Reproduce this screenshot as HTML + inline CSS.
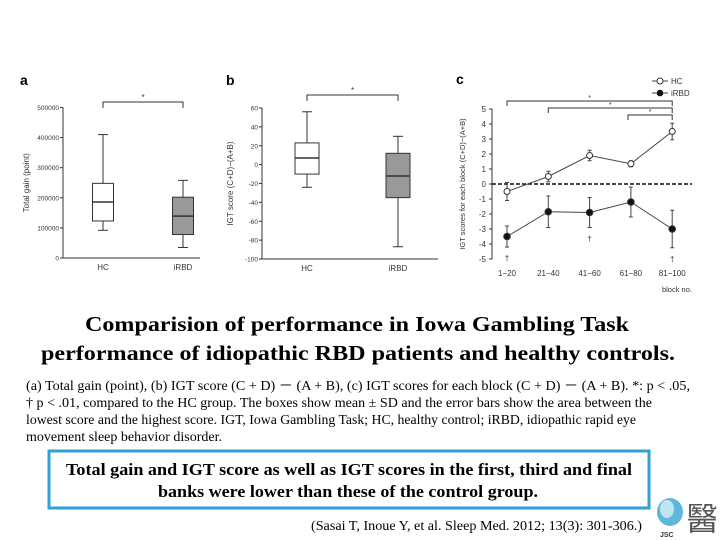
<!DOCTYPE html>
<html><head><meta charset="utf-8"><style>
html,body{margin:0;padding:0;background:#fff;width:720px;height:540px;overflow:hidden}
svg{display:block}
.ax{font-family:"Liberation Sans",sans-serif;fill:#333}
.sf{font-family:"Liberation Serif",serif;fill:#000}
</style></head><body>
<svg id="s" width="720" height="540" viewBox="0 0 720 540">
<g id="ga"></g>
<g id="gb"></g>
<g id="gc"></g>
<text class="sf" x="357" y="331" text-anchor="middle" font-size="21" font-weight="bold" textLength="544" lengthAdjust="spacingAndGlyphs">Comparision of performance in Iowa Gambling Task</text>
<text class="sf" x="358" y="360" text-anchor="middle" font-size="21" font-weight="bold" textLength="634" lengthAdjust="spacingAndGlyphs">performance of idiopathic RBD patients and healthy controls.</text>
<g font-size="13.5">
<text class="sf" x="26" y="390" textLength="664" lengthAdjust="spacingAndGlyphs">(a) Total gain (point), (b) IGT score (C + D) － (A + B), (c) IGT scores for each block (C + D) － (A + B). *: p &lt; .05,</text>
<text class="sf" x="26" y="407" textLength="626" lengthAdjust="spacingAndGlyphs">† p &lt; .01, compared to the HC group. The boxes show mean ± SD and the error bars show the area between the</text>
<text class="sf" x="26" y="424" textLength="610" lengthAdjust="spacingAndGlyphs">lowest  score and the highest score. IGT, Iowa Gambling Task; HC, healthy control; iRBD, idiopathic rapid eye</text>
<text class="sf" x="26" y="441" textLength="196" lengthAdjust="spacingAndGlyphs">movement sleep behavior disorder.</text>
</g>
<rect x="49" y="451" width="600" height="57" fill="none" stroke="#2ea3d2" stroke-width="3"/>
<text class="sf" x="349" y="475" text-anchor="middle" font-size="17" font-weight="bold" textLength="566" lengthAdjust="spacingAndGlyphs">Total gain and IGT score as well as IGT scores in the first, third and final</text>
<text class="sf" x="348" y="497" text-anchor="middle" font-size="17" font-weight="bold" textLength="380" lengthAdjust="spacingAndGlyphs">banks were lower than these of the control group.</text>
<text class="sf" x="311" y="530" font-size="14" textLength="331" lengthAdjust="spacingAndGlyphs">(Sasai T, Inoue Y, et al. Sleep Med. 2012; 13(3): 301-306.)</text>
<g>
<ellipse cx="670" cy="512" rx="13" ry="14" fill="#5fb8dc"/>
<ellipse cx="667" cy="509" rx="7" ry="9" fill="#bfe4f2"/>
<text x="660" y="537" font-family="Liberation Sans,sans-serif" font-size="7" font-weight="bold" fill="#333">JSC</text>
<text x="686" y="530" font-family="'Noto Sans CJK JP',sans-serif" font-size="32" fill="#555">醫</text>
</g>
</svg>
<script>
// Panel a data
const boxCats = ["HC","iRBD"];
const aMax=[410000,258000], aQ3=[248000,202000], aMed=[186000,139000], aQ1=[123000,78000], aMin=[92000,35000];
const aTicks=[0,100000,200000,300000,400000,500000];
// Panel b data
const bMax=[56,30], bQ3=[23,12], bMed=[7,-12], bQ1=[-10,-35], bMin=[-24,-87];
const bTicks=[-100,-80,-60,-40,-20,0,20,40,60];
// Panel c data
const blocks=["1−20","21−40","41−60","61−80","81−100"];
const hcVals=[-0.5,0.5,1.9,1.35,3.5];
const hcErr=[0.6,0.35,0.35,0.2,0.55];
const rbdVals=[-3.5,-1.85,-1.9,-1.2,-3.0];
const rbdErr=[0.7,1.05,1.0,1.0,1.25];
const cTicks=[-5,-4,-3,-2,-1,0,1,2,3,4,5];
const daggerBlocks=[0,2,4];

const NS="http://www.w3.org/2000/svg";
function mk(p,t,a,txt){const e=document.createElementNS(NS,t);for(const k in a)e.setAttribute(k,a[k]);if(txt!==undefined)e.textContent=txt;p.appendChild(e);return e;}

function boxPanel(g,cfg){
  const y=v=>cfg.y0+(v-cfg.vmin)/(cfg.vmax-cfg.vmin)*(cfg.y1-cfg.y0);
  const l=mk(g,'line',{x1:cfg.ax,x2:cfg.ax,y1:y(cfg.vmin),y2:y(cfg.vmax),stroke:'#333'});
  
  
  const xl=mk(g,'line',{x1:cfg.ax,x2:cfg.axEnd,y1:y(cfg.vmin),y2:y(cfg.vmin),stroke:'#333'});
  
  
  cfg.ticks.forEach(t=>{
    mk(g,'line',{x1:cfg.ax-3,x2:cfg.ax,y1:y(t),y2:y(t),stroke:'#333'});
    const tt=mk(g,'text',{x:cfg.ax-4,y:y(t)+2.5,'text-anchor':'end','font-size':6.5,class:'ax'},t);
    
    
  });
  boxCats.forEach((c,i)=>{
    const cx=cfg.cx[i],w=cfg.bw/2,fill=i?'#999':'#fff';
    mk(g,'line',{x1:cx,x2:cx,y1:y(cfg.max[i]),y2:y(cfg.min[i]),stroke:'#333'});
    mk(g,'line',{x1:cx-5,x2:cx+5,y1:y(cfg.max[i]),y2:y(cfg.max[i]),stroke:'#333'});
    mk(g,'line',{x1:cx-5,x2:cx+5,y1:y(cfg.min[i]),y2:y(cfg.min[i]),stroke:'#333'});
    const b=mk(g,'rect',{x:cx-w,y:y(cfg.q3[i]),width:cfg.bw,height:y(cfg.q1[i])-y(cfg.q3[i]),fill:fill,stroke:'#333'});
    
    
    mk(g,'line',{x1:cx-w,x2:cx+w,y1:y(cfg.med[i]),y2:y(cfg.med[i]),stroke:'#333','stroke-width':1.5});
    const lb=mk(g,'text',{x:cx,y:y(cfg.vmin)+12,'text-anchor':'middle','font-size':8,class:'ax'},c);
    
    
  });
  mk(g,'path',{d:`M${cfg.cx[0]},${cfg.by+6}V${cfg.by}H${cfg.cx[1]}V${cfg.by+6}`,fill:'none',stroke:'#333'});
  mk(g,'text',{x:(cfg.cx[0]+cfg.cx[1])/2,y:cfg.by-2,'text-anchor':'middle','font-size':8,class:'ax'},'*');
  const yt=mk(g,'text',{transform:`translate(${cfg.ytx},${(y(cfg.vmin)+y(cfg.vmax))/2}) rotate(-90)`,'text-anchor':'middle','font-size':8,class:'ax'},cfg.ytitle);
  
  
  const pl=mk(g,'text',{x:cfg.lx,y:85,'font-size':14,'font-weight':'bold','font-family':'Liberation Sans,sans-serif'},cfg.letter);
  
  
}
boxPanel(document.getElementById('ga'),{y0:258,y1:107.5,vmin:0,vmax:500000,ax:63,axEnd:200,ticks:aTicks,cx:[103,183],bw:21,
  max:aMax,q3:aQ3,med:aMed,q1:aQ1,min:aMin,by:102,ytx:29,ytitle:'Total gain (point)',lx:20,letter:'a'});
boxPanel(document.getElementById('gb'),{y0:259,y1:108,vmin:-100,vmax:60,ax:262,axEnd:438,ticks:bTicks,cx:[307,398],bw:24,
  max:bMax,q3:bQ3,med:bMed,q1:bQ1,min:bMin,by:95,ytx:233,ytitle:'IGT score (C+D)−(A+B)',lx:226,letter:'b'});

(function(){
  const g=document.getElementById('gc');
  const y=v=>184-v*15, x=i=>507+i*41.3;
  mk(g,'line',{x1:492,x2:492,y1:y(-5),y2:y(5),stroke:'#333'});
  cTicks.forEach(t=>{
    mk(g,'line',{x1:489,x2:492,y1:y(t),y2:y(t),stroke:'#333'});
    const tt=mk(g,'text',{x:486,y:y(t)+3,'text-anchor':'end','font-size':8,class:'ax'},t);
    
    
  });
  const z=mk(g,'line',{x1:492,x2:692,y1:y(0),y2:y(0),stroke:'#111','stroke-width':1.6,'stroke-dasharray':'4,2'});
  
  
  blocks.forEach((b,i)=>{
    const t=mk(g,'text',{x:x(i),y:276,'text-anchor':'middle','font-size':8,class:'ax'},b);
    
    
  });
  mk(g,'text',{x:692,y:292,'text-anchor':'end','font-size':7.5,class:'ax'},'block no.');
  mk(g,'text',{transform:`translate(465,${y(0)}) rotate(-90)`,'text-anchor':'middle','font-size':7.5,class:'ax'},'IGT scores for each block (C+D)−(A+B)');
  mk(g,'text',{x:456,y:84,'font-size':14,'font-weight':'bold','font-family':'Liberation Sans,sans-serif'},'c');
  function series(vals,err,filled,name){
    const s=mk(g,'g',{});
    
    
    vals.forEach((v,i)=>{
      mk(s,'line',{x1:x(i),x2:x(i),y1:y(v-err[i]),y2:y(v+err[i]),stroke:'#444'});
      mk(s,'line',{x1:x(i)-2,x2:x(i)+2,y1:y(v+err[i]),y2:y(v+err[i]),stroke:'#444'});
      mk(s,'line',{x1:x(i)-2,x2:x(i)+2,y1:y(v-err[i]),y2:y(v-err[i]),stroke:'#444'});
    });
    mk(s,'polyline',{points:vals.map((v,i)=>x(i)+','+y(v)).join(' '),fill:'none',stroke:'#444'});
    vals.forEach((v,i)=>{
      const p=mk(s,'circle',{cx:x(i),cy:y(v),r:filled?3.3:3,fill:filled?'#111':'#fff',stroke:'#333'});
      
      
    });
  }
  series(hcVals,hcErr,false,'hc-series');
  series(rbdVals,rbdErr,true,'irbd-series');
  daggerBlocks.forEach(i=>{
    mk(g,'text',{x:x(i),y:y(rbdVals[i]-rbdErr[i])+14,'text-anchor':'middle','font-size':8,class:'ax'},'†');
  });
  [[0,101],[1,108],[3,115]].forEach(([s,yy])=>{
    const xs=s===3?628:x(s);
    mk(g,'path',{d:`M${xs},${yy+5}V${yy}H${x(4)}V${yy+5}`,fill:'none',stroke:'#333'});
    mk(g,'text',{x:(xs+x(4))/2,y:yy-1,'text-anchor':'middle','font-size':7,class:'ax'},'*');
  });
  const lg=mk(g,'g',{});
  
  
  mk(lg,'line',{x1:652,x2:668,y1:81,y2:81,stroke:'#444'});
  mk(lg,'circle',{cx:660,cy:81,r:3,fill:'#fff',stroke:'#333'});
  mk(lg,'text',{x:671,y:84,'font-size':8,class:'ax'},'HC');
  mk(lg,'line',{x1:652,x2:668,y1:93,y2:93,stroke:'#444'});
  mk(lg,'circle',{cx:660,cy:93,r:3.3,fill:'#111'});
  mk(lg,'text',{x:671,y:96,'font-size':8,class:'ax'},'iRBD');
})();
</script>
</body></html>
